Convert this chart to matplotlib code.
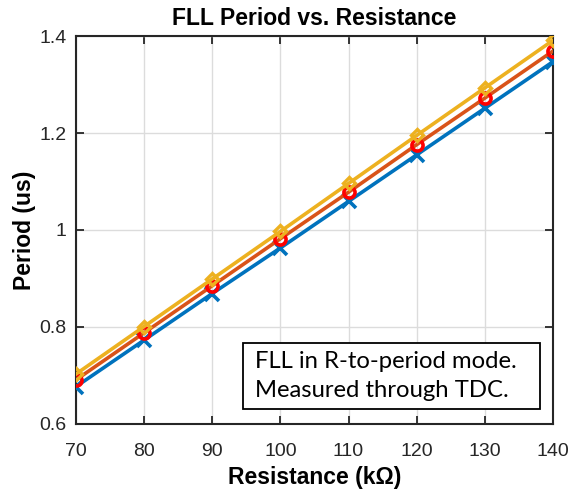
import matplotlib
matplotlib.use("Agg")
import matplotlib.pyplot as plt
from matplotlib.patches import Rectangle

# Resistance sweep (kOhm) and measured FLL periods (us)
resistance = [70, 80, 90, 100, 110, 120, 130, 140]
period_a = [0.677, 0.773, 0.869, 0.963, 1.059, 1.155, 1.251, 1.347]
period_b = [0.691, 0.788, 0.885, 0.982, 1.078, 1.176, 1.272, 1.369]
period_c = [0.703, 0.801, 0.899, 0.997, 1.096, 1.195, 1.293, 1.391]

x_ticks = [70, 80, 90, 100, 110, 120, 130, 140]
y_ticks = [0.6, 0.8, 1.0, 1.2, 1.4]
y_tick_labels = ["0.6", "0.8", "1", "1.2", "1.4"]

plt.rcParams["font.family"] = ["Liberation Sans", "DejaVu Sans"]

fig = plt.figure(figsize=(5.70, 4.96), dpi=100)
ax = fig.add_axes([0.1333, 0.1452, 0.8368, 0.7822])

ax.plot(resistance, period_a, color="#0072BD", lw=2.6, marker="x",
        ms=10, mew=2.6, zorder=3)
ax.plot(resistance, period_b, color="#D95319", lw=2.6, marker="o",
        ms=8, mew=2.6, mfc="none", mec="#FF0000", zorder=4)
ax.plot(resistance, period_c, color="#EDB120", lw=2.6, marker="D",
        ms=6.5, mew=2.4, mfc="none", mec="#EDB120", zorder=5)

ax.set_xlim(70, 140)
ax.set_ylim(0.6, 1.4)
ax.set_xticks(x_ticks)
ax.set_yticks(y_ticks)
ax.set_yticklabels(y_tick_labels)
ax.grid(True, color="#DCDCDC", lw=1.0)
ax.set_axisbelow(True)
ax.tick_params(direction="in", length=6, width=1.3, colors="#262626",
               labelsize=14, top=True, right=True)
ax.tick_params(axis="x", pad=14)
ax.tick_params(axis="y", pad=7)
for sp in ax.spines.values():
    sp.set_color("#262626")
    sp.set_linewidth(1.5)

ax.set_title("FLL Period vs. Resistance", fontsize=16.5, fontweight="bold", pad=8)
ax.set_xlabel("Resistance (k\u03a9)", fontsize=16.5, fontweight="bold", labelpad=4)
ax.set_ylabel("Period (us)", fontsize=16.5, fontweight="bold", labelpad=2)

# annotation box
ax.add_patch(Rectangle((0.350, 0.0387), 0.623, 0.170, transform=ax.transAxes,
                       fc="white", ec="black", lw=1.3, zorder=6))
ax.text(0.375, 0.1237, "FLL in R-to-period mode.\nMeasured through TDC.",
        transform=ax.transAxes, fontsize=17.2, family="Lato",
        linespacing=1.5, va="center", ha="left", zorder=7)

fig.savefig("out.png", dpi=100)
